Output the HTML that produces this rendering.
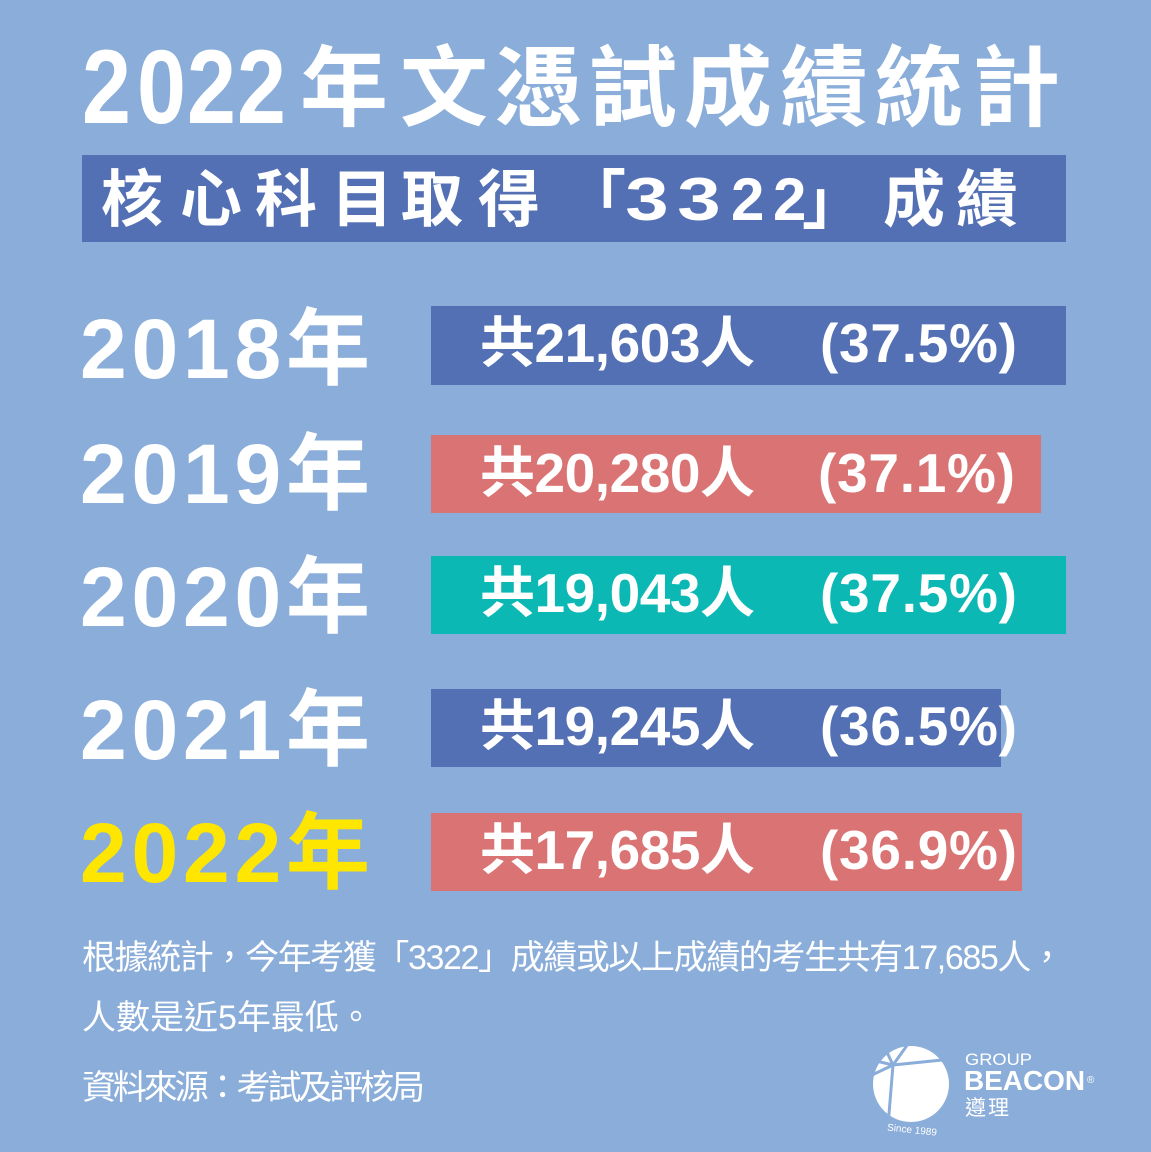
<!DOCTYPE html>
<html>
<head>
<meta charset="utf-8">
<style>
html,body{margin:0;padding:0;background:#8AADD9;}
svg{display:block;}
text{font-family:"Liberation Sans","Noto Sans CJK TC",sans-serif;}
</style>
</head>
<body>
<svg width="1151" height="1152" viewBox="0 0 1151 1152" xmlns="http://www.w3.org/2000/svg">
<rect x="0" y="0" width="1151" height="1152" fill="#8AADD9"/>

<!-- Title -->
<text transform="translate(0,123) scale(1,1.19)" x="82 137 187 237" y="0" font-size="88" font-weight="700" fill="#fff">2022</text>
<text x="300 400 494 589 684 780 875 972" y="119" font-size="88" font-weight="700" fill="#fff">年文憑試成績統計</text>

<!-- Subtitle box -->
<rect x="82" y="155" width="984" height="87" fill="#5470B4"/>
<text x="101 180 255 331 401 478" y="221" font-size="62" font-weight="700" fill="#fff">核心科目取得</text>
<text x="564" y="221" font-size="62" font-weight="700" fill="#fff">「</text>
<text transform="translate(0,220) scale(1.3,1)" x="481 521" y="0" font-size="60" font-weight="700" fill="#fff">33</text>
<text x="731 773" y="220" font-size="60" font-weight="700" fill="#fff">22</text>
<text x="802" y="223" font-size="62" font-weight="700" fill="#fff">」</text>
<text x="883 956" y="221" font-size="62" font-weight="700" fill="#fff">成績</text>

<!-- Bars -->
<rect x="431" y="306" width="635" height="79" fill="#5470B4"/>
<rect x="431" y="435" width="610" height="78" fill="#DA7373"/>
<rect x="431" y="556" width="635" height="78" fill="#0BB8B3"/>
<rect x="431" y="689" width="570" height="78" fill="#5470B4"/>
<rect x="431" y="813" width="591" height="78" fill="#DA7373"/>

<!-- Year labels -->
<g font-size="84" font-weight="700">
<text x="80" y="378" textLength="290" lengthAdjust="spacing" fill="#fff">2018年</text>
<text x="80" y="503" textLength="290" lengthAdjust="spacing" fill="#fff">2019年</text>
<text x="80" y="626" textLength="290" lengthAdjust="spacing" fill="#fff">2020年</text>
<text x="80" y="759" textLength="290" lengthAdjust="spacing" fill="#fff">2021年</text>
<text x="80" y="882" textLength="290" lengthAdjust="spacing" fill="#FFE600">2022年</text>
</g>

<!-- Bar texts -->
<g font-size="55" font-weight="700" fill="#fff">
<text x="480" y="362" textLength="275" lengthAdjust="spacing">共21,603人</text>
<text x="820" y="362" textLength="197" lengthAdjust="spacing">(37.5%)</text>
<text x="480" y="492" textLength="275" lengthAdjust="spacing">共20,280人</text>
<text x="818" y="492" textLength="197" lengthAdjust="spacing">(37.1%)</text>
<text x="480" y="612" textLength="275" lengthAdjust="spacing">共19,043人</text>
<text x="820" y="612" textLength="197" lengthAdjust="spacing">(37.5%)</text>
<text x="480" y="745" textLength="275" lengthAdjust="spacing">共19,245人</text>
<text x="820" y="745" textLength="197" lengthAdjust="spacing">(36.5%)</text>
<text x="480" y="869" textLength="275" lengthAdjust="spacing">共17,685人</text>
<text x="820" y="869" textLength="197" lengthAdjust="spacing">(36.9%)</text>
</g>

<!-- Bottom text -->
<g font-size="34" fill="#fff">
<text x="82" y="969" textLength="982" lengthAdjust="spacing">根據統計，今年考獲「3322」成績或以上成績的考生共有17,685人，</text>
<text x="82" y="1029">人數是近5年最低。</text>
<text x="82" y="1099" textLength="343" lengthAdjust="spacing">資料來源：考試及評核局</text>
</g>

<!-- Logo -->
<circle cx="911" cy="1084" r="38" fill="#fff"/>
<g stroke="#8AADD9" stroke-width="3" stroke-linecap="round" fill="none">
<path d="M893,1065 L888,1126"/>
<path d="M893,1065 L952,1059"/>
<path d="M893,1065 L908,1044"/>
<path d="M893,1065 L884,1046"/>
<path d="M893,1065 L872,1060"/>
<path d="M893,1065 L870,1076"/>
<path d="M872,1052 A30,30 0 0 1 890,1043" stroke-width="4"/>
</g>
<text x="887" y="1133" font-size="10" fill="#fff" transform="rotate(6,911,1130)">Since 1989</text>
<text x="965" y="1065" font-size="17" fill="#fff" textLength="67" lengthAdjust="spacingAndGlyphs">GROUP</text>
<text x="964" y="1090" font-size="28" font-weight="700" fill="#fff" textLength="121" lengthAdjust="spacingAndGlyphs">BEACON</text>
<text x="1087" y="1083" font-size="10" fill="#fff">®</text>
<text x="965" y="1115" font-size="21" fill="#fff" textLength="44" lengthAdjust="spacing">遵理</text>
</svg>
</body>
</html>
